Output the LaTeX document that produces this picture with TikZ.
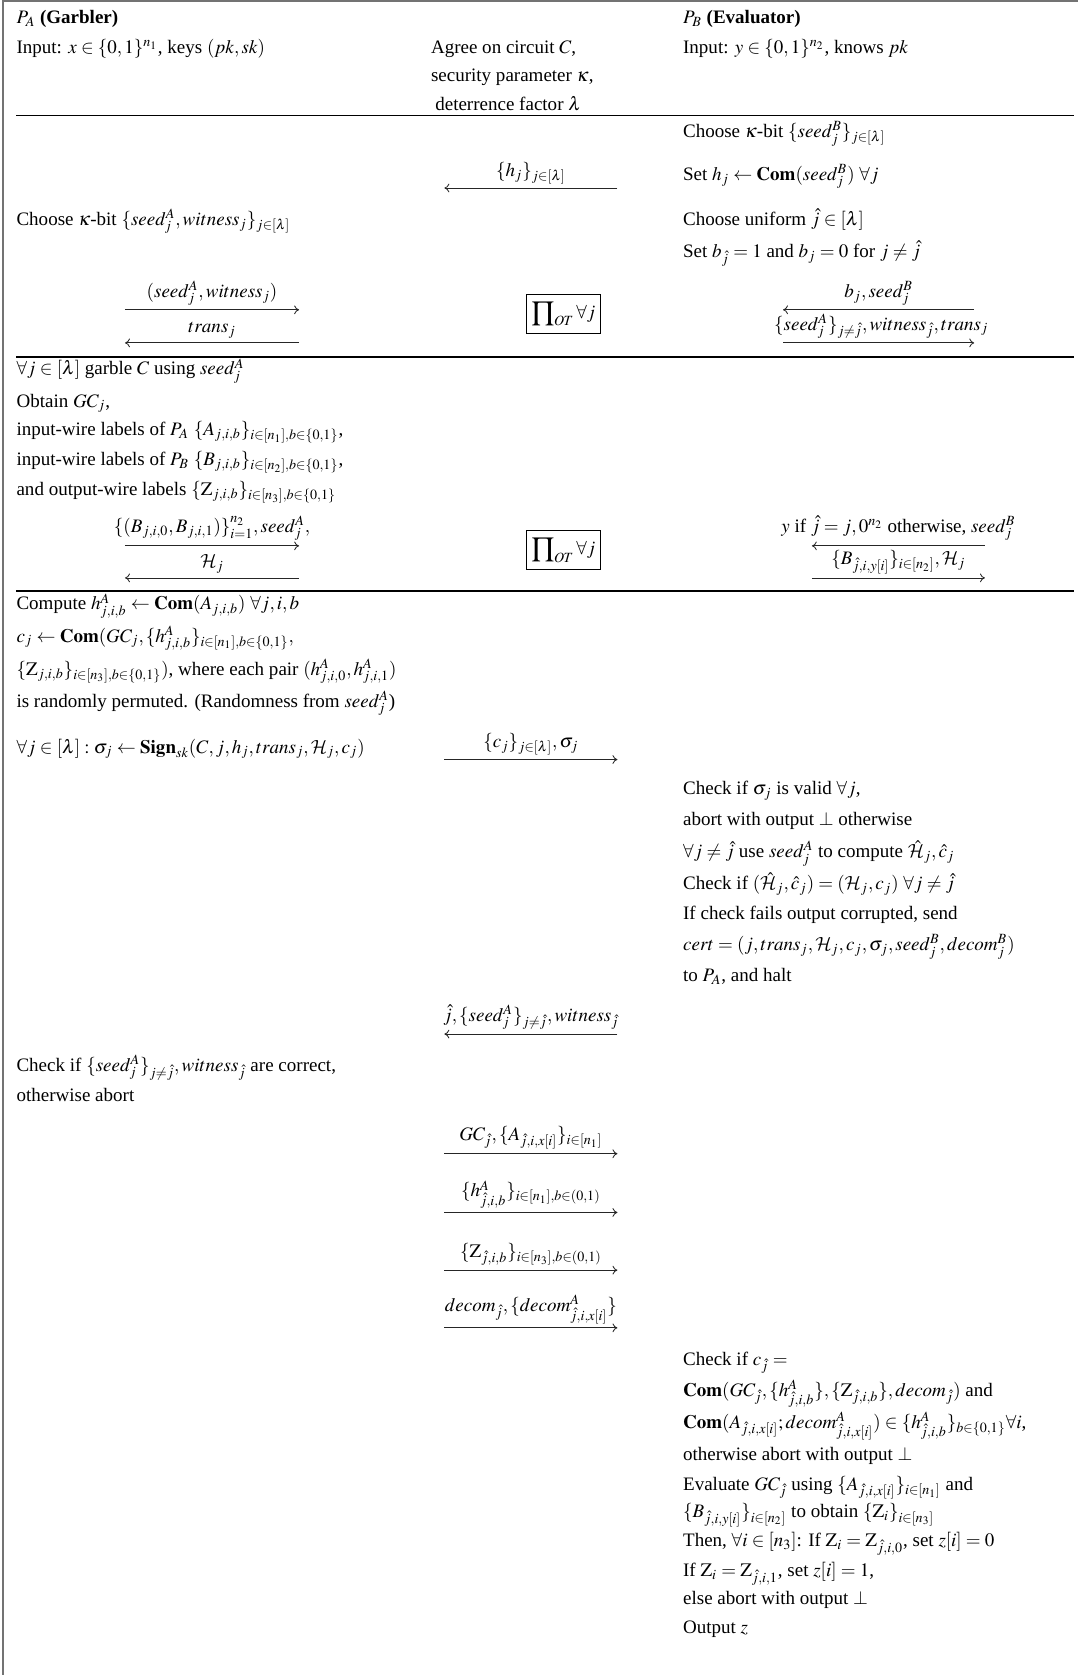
\documentclass[tikz,border=0pt]{standalone}
\usepackage{mathptmx}
\usepackage[no-math]{fontspec}
\setmainfont{Liberation Serif}
\DeclareMathAlphabet{\mathcal}{OMS}{cmsy}{m}{n}
\usetikzlibrary{arrows.meta}
\thickmuskip=4mu plus 3mu minus 1mu
\begin{document}
\begin{tikzpicture}[x=0.5618pt,y=-0.5618pt,
  txt/.style={anchor=base west,inner sep=0pt,outer sep=0pt},
  lbl/.style={anchor=south,inner sep=0pt,outer sep=0pt},
  msg/.style={line width=0.45pt,draw=black!85,-{To[length=2.6pt,width=4.6pt]}},
  seprule/.style={line width=0.8pt},
  otbox/.style={draw,line width=0.5pt,inner sep=2pt,minimum width=38.8pt,minimum height=20.2pt}]
\useasboundingbox (0,0) rectangle (1009,1568);
\coordinate (f1) at (3,1568); \coordinate (f2) at (3,1); \coordinate (f3) at (1009,1);
\draw[line width=1pt,black!55] (f1) -- (f2) -- (f3);
% ---------------- header
\node[txt] (pa) at (15.5,22) {$P_A$ \textbf{(Garbler)}};
\node[txt] (pain) at (15.5,50) {Input: $x\in\{0,1\}^{n_1}$, keys $(pk,sk)$};
\node[txt] (ag1) at (403.5,50) {Agree on circuit $C$,};
\node[txt] (ag2) at (403.5,76) {security parameter $\kappa$,};
\node[txt] (ag3) at (407.5,103) {deterrence factor $\lambda$};
\node[txt] (pb) at (639.5,22) {$P_B$ \textbf{(Evaluator)}};
\node[txt] (pbin) at (639.5,50) {Input: $y\in\{0,1\}^{n_2}$, knows $pk$};
\coordinate (r1a) at (15,108); \coordinate (r1b) at (1005,108);
\draw[seprule] (r1a) -- (r1b);
% ---------------- section 2
\node[txt] (b1) at (639.5,129) {Choose $\kappa$-bit $\{seed^B_j\}_{j\in[\lambda]}$};
\node[txt] (b2) at (639.5,169) {Set $h_j\leftarrow\mathbf{Com}(seed^B_j)\ \forall j$};
\coordinate (m1s) at (578,176); \coordinate (m1e) at (416,176);
\draw[msg] (m1s) -- (m1e);
\node[lbl] (m1l) at (497,172) {$\{h_j\}_{j\in[\lambda]}$};
\node[txt] (a1) at (15.5,211) {Choose $\kappa$-bit $\{seed^A_j, witness_j\}_{j\in[\lambda]}$};
\node[txt] (b3) at (639.5,211) {Choose uniform $\hat{j}\in[\lambda]$};
\node[txt] (b4) at (639.5,241) {Set $b_{\hat{j}}=1$ and $b_j=0$ for $j\neq\hat{j}$};
\coordinate (l1s) at (117,290); \coordinate (l1e) at (280,290);
\draw[msg] (l1s) -- (l1e);
\node[lbl] (l1l) at (198.5,286) {$(seed^A_j, witness_j)$};
\coordinate (l2s) at (280,321); \coordinate (l2e) at (117,321);
\draw[msg] (l2s) -- (l2e);
\node[lbl] (l2l) at (198.5,317) {$trans_j$};
\node[otbox] (ot1) at (527.5,294) {$\displaystyle\prod\nolimits_{OT}\forall j$};
\coordinate (r2s) at (912,290); \coordinate (r2e) at (733,290);
\draw[msg] (r2s) -- (r2e);
\node[lbl] (r2l) at (822.5,286) {$b_j, seed^B_j$};
\coordinate (r3s) at (733,321); \coordinate (r3e) at (912,321);
\draw[msg] (r3s) -- (r3e);
\node[lbl] (r3l) at (825,317) {$\{seed^A_j\}_{j\neq\hat{j}}, witness_{\hat{j}}, trans_j$};
\coordinate (r2a) at (15,334); \coordinate (r2b) at (1005,334);
\draw[seprule] (r2a) -- (r2b);
% ---------------- section 3
\node[txt] (a2) at (15.5,351) {$\forall j\in[\lambda]$ garble $C$ using $seed^A_j$};
\node[txt] (a3) at (15.5,381) {Obtain $GC_j$,};
\node[txt] (a4) at (15.5,408) {input-wire labels of $P_A$ $\{A_{j,i,b}\}_{i\in[n_1],b\in\{0,1\}}$,};
\node[txt] (a5) at (15.5,436) {input-wire labels of $P_B$ $\{B_{j,i,b}\}_{i\in[n_2],b\in\{0,1\}}$,};
\node[txt] (a6) at (15.5,464) {and output-wire labels $\{\mathrm{Z}_{j,i,b}\}_{i\in[n_3],b\in\{0,1\}}$};
\coordinate (l3s) at (117,511); \coordinate (l3e) at (280,511);
\draw[msg] (l3s) -- (l3e);
\node[lbl] (l3l) at (198.5,506) {$\{(B_{j,i,0}, B_{j,i,1})\}^{n_2}_{i=1}, seed^A_j,$};
\coordinate (l4s) at (280,541); \coordinate (l4e) at (117,541);
\draw[msg] (l4s) -- (l4e);
\node[lbl] (l4l) at (198.5,537) {$\mathcal{H}_j$};
\node[otbox] (ot2) at (527.5,515) {$\displaystyle\prod\nolimits_{OT}\forall j$};
\coordinate (r4s) at (922,511); \coordinate (r4e) at (760,511);
\draw[msg] (r4s) -- (r4e);
\node[lbl] (r4l) at (841,506) {$y$ if $\hat{j}=j, 0^{n_2}$ otherwise, $seed^B_j$};
\coordinate (r5s) at (760,541); \coordinate (r5e) at (922,541);
\draw[msg] (r5s) -- (r5e);
\node[lbl] (r5l) at (841,537) {$\{B_{\hat{j},i,y[i]}\}_{i\in[n_2]}, \mathcal{H}_j$};
\coordinate (r3a) at (15,553); \coordinate (r3b) at (1005,553);
\draw[seprule] (r3a) -- (r3b);
% ---------------- section 4
\node[txt] (a7) at (15.5,571) {Compute $h^A_{j,i,b}\leftarrow\mathbf{Com}(A_{j,i,b})\ \forall j,i,b$};
\node[txt] (a8) at (15.5,601) {$c_j\leftarrow\mathbf{Com}(GC_j,\{h^A_{j,i,b}\}_{i\in[n_1],b\in\{0,1\}},$};
\node[txt] (a9) at (15.5,632) {$\{\mathrm{Z}_{j,i,b}\}_{i\in[n_3],b\in\{0,1\}})$, where each pair $(h^A_{j,i,0},h^A_{j,i,1})$};
\node[txt] (a10) at (15.5,662) {is randomly permuted. (Randomness from $seed^A_j$)};
\node[txt] (a11) at (15.5,705) {$\forall j\in[\lambda]:\sigma_j\leftarrow\mathbf{Sign}_{sk}(C,j,h_j,trans_j,\mathcal{H}_j,c_j)$};
\coordinate (m2s) at (416,711); \coordinate (m2e) at (578,711);
\draw[msg] (m2s) -- (m2e);
\node[lbl] (m2l) at (497,707) {$\{c_j\}_{j\in[\lambda]}, \sigma_j$};
\node[txt] (b5) at (639.5,744) {Check if $\sigma_j$ is valid $\forall j$,};
\node[txt] (b6) at (639.5,773) {abort with output $\perp$ otherwise};
\node[txt] (b7) at (639.5,803) {$\forall j\neq\hat{j}$ use $seed^A_j$ to compute $\hat{\mathcal{H}}_j,\hat{c}_j$};
\node[txt] (b8) at (639.5,833) {Check if $(\hat{\mathcal{H}}_j,\hat{c}_j)=(\mathcal{H}_j,c_j)\ \forall j\neq\hat{j}$};
\node[txt] (b9) at (639.5,861) {If check fails output corrupted, send};
\node[txt] (b10) at (639.5,890) {$cert=(j,trans_j,\mathcal{H}_j,c_j,\sigma_j,seed^B_j,decom^B_j)$};
\node[txt] (b11) at (639.5,919) {to $P_A$, and halt};
\coordinate (m3s) at (578,968); \coordinate (m3e) at (416,968);
\draw[msg] (m3s) -- (m3e);
\node[lbl] (m3l) at (497,964) {$\hat{j},\{seed^A_j\}_{j\neq\hat{j}},witness_{\hat{j}}$};
\node[txt] (a12) at (15.5,1003) {Check if $\{seed^A_j\}_{j\neq\hat{j}},witness_{\hat{j}}$ are correct,};
\node[txt] (a13) at (15.5,1031) {otherwise abort};
\coordinate (m4s) at (416,1080); \coordinate (m4e) at (578,1080);
\draw[msg] (m4s) -- (m4e);
\node[lbl] (m4l) at (497,1076) {$GC_{\hat{j}},\{A_{\hat{j},i,x[i]}\}_{i\in[n_1]}$};
\coordinate (m5s) at (416,1135); \coordinate (m5e) at (578,1135);
\draw[msg] (m5s) -- (m5e);
\node[lbl] (m5l) at (497,1131) {$\{h^A_{\hat{j},i,b}\}_{i\in[n_1],b\in(0,1)}$};
\coordinate (m6s) at (416,1189); \coordinate (m6e) at (578,1189);
\draw[msg] (m6s) -- (m6e);
\node[lbl] (m6l) at (497,1185) {$\{\mathrm{Z}_{\hat{j},i,b}\}_{i\in[n_3],b\in(0,1)}$};
\coordinate (m7s) at (416,1243); \coordinate (m7e) at (578,1243);
\draw[msg] (m7s) -- (m7e);
\node[lbl] (m7l) at (497,1239) {$decom_{\hat{j}},\{decom^A_{\hat{j},i,x[i]}\}$};
\node[txt] (c1) at (639.5,1278) {Check if $c_{\hat{j}}=$};
\node[txt] (c2) at (639.5,1307) {$\mathbf{Com}(GC_{\hat{j}},\{h^A_{\hat{j},i,b}\},\{\mathrm{Z}_{\hat{j},i,b}\},decom_{\hat{j}})$ and};
\node[txt] (c3) at (639.5,1337) {$\mathbf{Com}(A_{\hat{j},i,x[i]};decom^A_{\hat{j},i,x[i]})\in\{h^A_{\hat{j},i,b}\}_{b\in\{0,1\}}\forall i$,};
\node[txt] (c4) at (639.5,1367) {otherwise abort with output $\perp$};
\node[txt] (c5) at (639.5,1395) {Evaluate $GC_{\hat{j}}$ using $\{A_{\hat{j},i,x[i]}\}_{i\in[n_1]}$ and};
\node[txt] (c6) at (639.5,1421) {$\{B_{\hat{j},i,y[i]}\}_{i\in[n_2]}$ to obtain $\{\mathrm{Z}_i\}_{i\in[n_3]}$};
\node[txt] (c7) at (639.5,1448) {Then, $\forall i\in[n_3]$: If $\mathrm{Z}_i=\mathrm{Z}_{\hat{j},i,0}$, set $z[i]=0$};
\node[txt] (c8) at (639.5,1476) {If $\mathrm{Z}_i=\mathrm{Z}_{\hat{j},i,1}$, set $z[i]=1$,};
\node[txt] (c9) at (639.5,1502) {else abort with output $\perp$};
\node[txt] (c10) at (639.5,1529) {Output $z$};
\end{tikzpicture}
\end{document}
